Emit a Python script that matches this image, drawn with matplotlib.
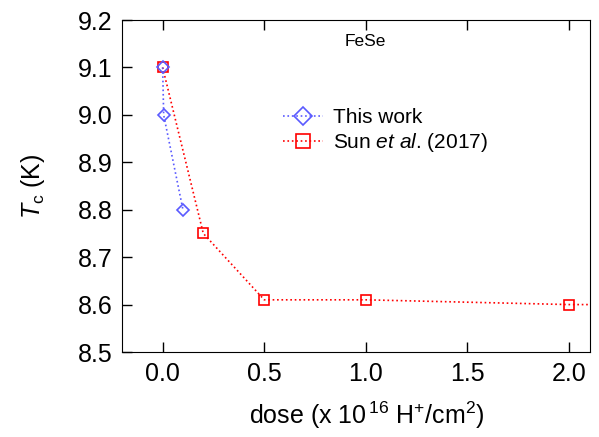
import matplotlib
matplotlib.use("Agg")
import matplotlib.pyplot as plt

plt.rcParams['font.family'] = ['Liberation Sans', 'DejaVu Sans']
plt.rcParams['mathtext.fontset'] = 'custom'
plt.rcParams['mathtext.rm'] = 'Liberation Sans'
plt.rcParams['mathtext.it'] = 'Liberation Sans:italic'

this_dose = [0.0, 0.005, 0.1]
this_tc = [9.1, 9.0, 8.8]
sun_dose = [0.0, 0.2, 0.5, 1.0, 2.0, 3.0]
sun_tc = [9.1, 8.75, 8.61, 8.61, 8.60, 8.60]
xticks = [0.0, 0.5, 1.0, 1.5, 2.0]
yticks = [8.5, 8.6, 8.7, 8.8, 8.9, 9.0, 9.1, 9.2]

fig = plt.figure(figsize=(5.99, 4.37), dpi=100)
ax = fig.add_axes([122/599, 1-352/437, (590-122)/599, (352-20)/437])

ax.plot(this_dose, this_tc, ls=':', color='#5a5aff', lw=1.2, marker='D',
        mfc='none', mec='#5a5aff', ms=5.8, mew=1.2, label='This work', zorder=3)
ax.plot(sun_dose, sun_tc, ls=':', color='#ff0000', lw=1.2, marker='s',
        mfc='none', mec='#ff0000', ms=6.5, mew=1.2, label=r'Sun $et$ $al$. (2017)', zorder=2)

ax.set_xlim(-0.2, 2.103)
ax.set_ylim(8.5, 9.2)
ax.set_xticks(xticks)
ax.set_yticks(yticks)
ax.set_xticklabels([f"{v:.1f}" for v in xticks])
ax.set_yticklabels([f"{v:.1f}" for v in yticks])
ax.tick_params(direction='in', top=True, right=False, labelsize=18, length=7, width=1, pad=7)

ax.set_xlabel(r'dose (x 10$^{\,16}$ H$^{+}$/cm$^{2}$)', fontsize=18, labelpad=10)
ax.xaxis.label.set_x(0.524)
ax.set_ylabel(r'$T_{\mathrm{c}}$ (K)', fontsize=18, labelpad=22)

ax.text(0.519, 0.934, 'FeSe', transform=ax.transAxes, ha='center', va='center', fontsize=12.5)

ax.legend(loc='upper left', bbox_to_anchor=(0.344, 0.735), frameon=False, fontsize=15,
          handlelength=1.9, handletextpad=0.5, labelspacing=0.2, borderaxespad=0,
          borderpad=0, markerscale=1.5)

fig.savefig('out.png', dpi=100)
